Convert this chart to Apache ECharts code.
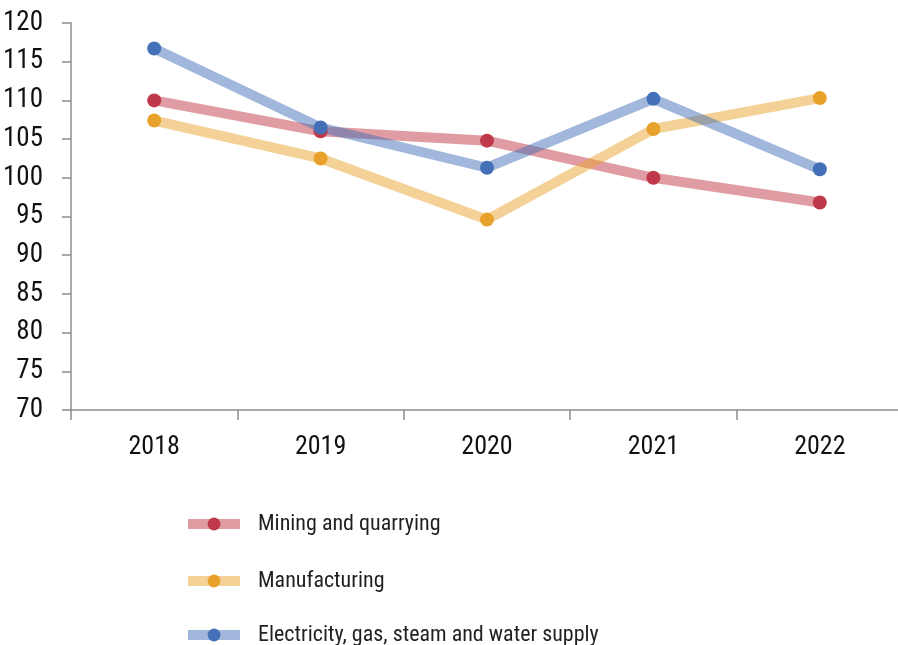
<!DOCTYPE html>
<html><head><meta charset="utf-8">
<script src="https://cdn.jsdelivr.net/npm/echarts@6/dist/echarts.min.js"></script>
<style>html,body{margin:0;padding:0;background:#fff;overflow:hidden}#c{width:910px;height:645px}</style>
</head><body><div id="c"></div>
<script>
const years = ['2018','2019','2020','2021','2022'];
const mining = [110.0, 106.0, 104.8, 100.0, 96.8];
const manufacturing = [107.4, 102.5, 94.6, 106.3, 110.3];
const electricity = [116.7, 106.5, 101.3, 110.2, 101.1];
const names = ['Mining and quarrying','Manufacturing','Electricity, gas, steam and water supply'];

const FONT = '"Liberation Sans Narrow", "Roboto Condensed", "DejaVu Sans Condensed", sans-serif';
function mk(name, data, lineCol, dotCol){
  return {name, type:'line', data, symbol:'circle', symbolSize:14,
    lineStyle:{width:10, color:lineCol, cap:'round'},
    itemStyle:{color:dotCol, borderWidth:0}, emphasis:{disabled:true}};
}
function lg(name, top){
  return {orient:'vertical', left:183, top:top, itemWidth:52, itemHeight:16, padding:0,
    lineStyle:{width:10, cap:'butt'},
    textStyle:{fontFamily:FONT, fontSize:22, color:'#231f20', padding:[0,0,0,13]},
    data:[name]};
}
const chart = echarts.init(document.getElementById('c'));
chart.setOption({
  animation:false,
  grid:{left:71, top:23, height:387, width:832, containLabel:false},
  legend:[lg(names[0],513), lg(names[1],570), lg(names[2],624)],
  xAxis:{type:'category', data:years, boundaryGap:true,
    axisLine:{lineStyle:{color:'#8c8c8c', width:1.5}},
    axisTick:{show:true, length:10, lineStyle:{color:'#8c8c8c', width:1.5}},
    axisLabel:{fontFamily:FONT, fontSize:26, color:'#111', margin:24}},
  yAxis:{type:'value', min:70, max:120, interval:5,
    axisLine:{show:true, lineStyle:{color:'#8c8c8c', width:1.5}},
    axisTick:{show:true, length:9, lineStyle:{color:'#8c8c8c', width:1.5}},
    splitLine:{show:false},
    axisLabel:{fontFamily:FONT, fontSize:27, color:'#111', margin:28}},
  series:[
    mk(names[0], mining, 'rgba(192,57,70,0.5)', '#c0394a'),
    mk(names[1], manufacturing, 'rgba(234,166,48,0.5)', '#e8a22c'),
    mk(names[2], electricity, 'rgba(68,112,184,0.5)', '#4470b8')
  ]
});
</script></body></html>
